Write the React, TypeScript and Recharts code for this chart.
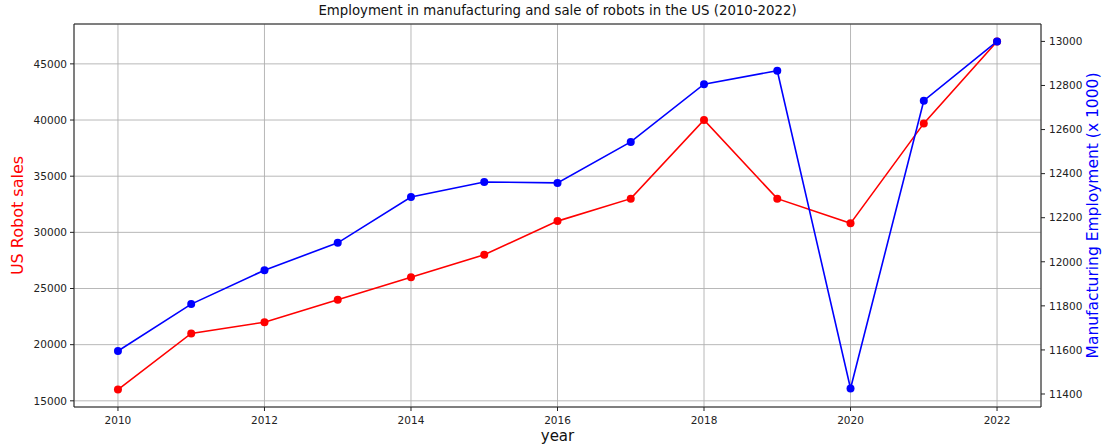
import React from "react";
import { LineChart, Line, XAxis, YAxis, CartesianGrid, ReferenceLine } from "recharts";

const years = [2010, 2011, 2012, 2013, 2014, 2015, 2016, 2017, 2018, 2019, 2020, 2021, 2022];
const robotSales = [16000, 21000, 22000, 24000, 26000, 28000, 31000, 33000, 40000, 33000, 30800, 39700, 47000];
const employment = [11595, 11808, 11962, 12086, 12294, 12362, 12358, 12544, 12806, 12867, 11425, 12731, 13000];

const xTicks = [2010, 2012, 2014, 2016, 2018, 2020, 2022];
const salesTicks = [15000, 20000, 25000, 30000, 35000, 40000, 45000];
const employmentTicks = [11400, 11600, 11800, 12000, 12200, 12400, 12600, 12800, 13000];

const data = years.map((year, i) => ({ year, sales: robotSales[i], employment: employment[i] }));

const font = "DejaVu Sans, sans-serif";
const tickStyle = { fill: "#222", fontSize: 10.5, fontFamily: font };

export default function App() {
    return (
        <div style={{ position: "absolute", left: 0, top: 0, width: 1104, height: 446, background: "#fff" }}>
            <div
                style={{
                    position: "absolute", top: 3, left: 0, width: 1115, textAlign: "center",
                    fontFamily: font, fontSize: 13.3, color: "#111"
                }}
            >
                Employment in manufacturing and sale of robots in the US (2010-2022)
            </div>
            <LineChart width={1104} height={446} data={data} margin={{ top: 24, right: 0, left: 0, bottom: 0 }}>
                <CartesianGrid yAxisId="left" stroke="#b0b0b0" strokeWidth={0.9} />
                <XAxis
                    dataKey="year"
                    type="number"
                    domain={[2009.4, 2022.6]}
                    ticks={xTicks}
                    allowDataOverflow
                    height={39}
                    tick={tickStyle}
                    tickSize={4}
                    tickMargin={6}
                    stroke="#222"
                    label={{ value: "year", position: "insideBottom", offset: 5, fill: "#111", fontSize: 15, fontFamily: font }}
                />
                <YAxis
                    yAxisId="left"
                    domain={[14450, 48550]}
                    ticks={salesTicks}
                    allowDataOverflow
                    width={74}
                    tick={tickStyle}
                    tickSize={4}
                    tickMargin={3}
                    stroke="#222"
                    label={{
                        value: "US Robot sales", angle: -90, position: "insideLeft", offset: 17,
                        fill: "#ff0000", fontSize: 16, fontFamily: font, style: { textAnchor: "middle" }
                    }}
                />
                <YAxis
                    yAxisId="right"
                    orientation="right"
                    domain={[11341, 13079]}
                    ticks={employmentTicks}
                    allowDataOverflow
                    width={63}
                    tick={tickStyle}
                    tickSize={4}
                    tickMargin={4}
                    stroke="#222"
                    label={{
                        value: "Manufacturing Employment (x 1000)", angle: -90, position: "insideRight", offset: 12,
                        fill: "#0000ff", fontSize: 15.5, fontFamily: font, style: { textAnchor: "middle" }
                    }}
                />
                <ReferenceLine yAxisId="left" y={48550} stroke="#222" strokeWidth={1} />
                <Line
                    yAxisId="left"
                    dataKey="sales"
                    type="linear"
                    stroke="#ff0000"
                    strokeWidth={1.6}
                    dot={{ r: 4, fill: "#ff0000", stroke: "#ff0000", strokeWidth: 0 }}
                    isAnimationActive={false}
                />
                <Line
                    yAxisId="right"
                    dataKey="employment"
                    type="linear"
                    stroke="#0000ff"
                    strokeWidth={1.6}
                    dot={{ r: 4, fill: "#0000ff", stroke: "#0000ff", strokeWidth: 0 }}
                    isAnimationActive={false}
                />
            </LineChart>
        </div>
    );
}
